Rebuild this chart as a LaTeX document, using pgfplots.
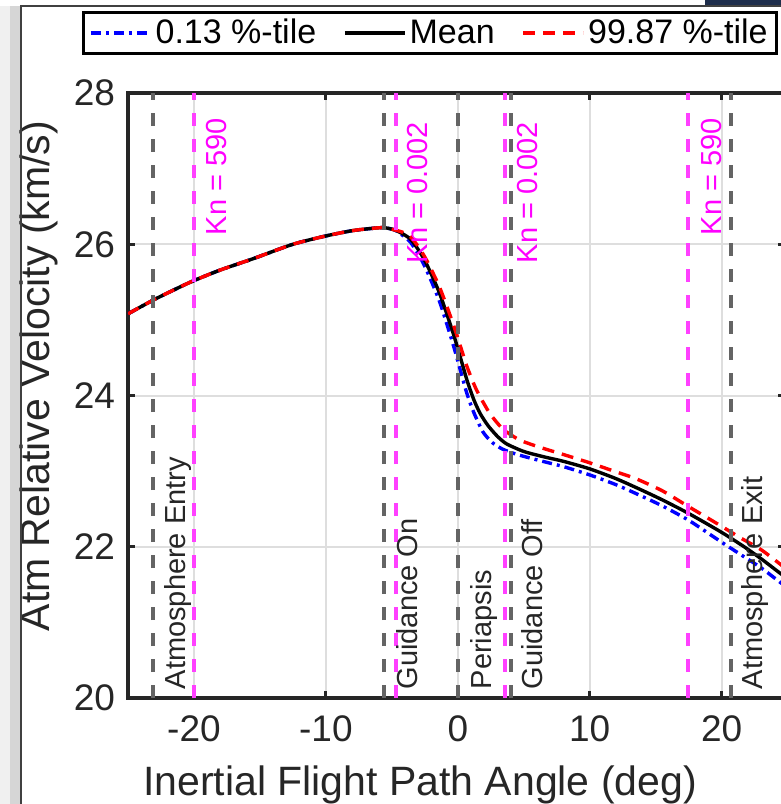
\documentclass[border=0pt]{standalone}
\usepackage{pgfplots}
\pgfplotsset{compat=1.18}
\usepackage{fontspec}
\setmainfont{Liberation Sans}
\definecolor{mag}{RGB}{255,64,255}
\definecolor{magtext}{RGB}{255,0,255}
\definecolor{vgray}{RGB}{100,100,100}
\definecolor{axgray}{RGB}{38,38,38}
\definecolor{navy}{RGB}{30,45,75}

\begin{document}
\begin{tikzpicture}
\path[use as bounding box] (0,0) rectangle (390.5pt,402pt);
\fill[black!6] (0,0) rectangle (5pt,399pt);
\fill[black!16] (5pt,0) rectangle (10.5pt,399pt);
\fill[navy] (352.5pt,399.5pt) rectangle (390.5pt,402pt);
\begin{axis}[
  at={(64pt,53pt)}, anchor=south west,
  scale only axis, width=328.5pt, height=302.5pt,
  xmin=-25, xmax=24.8, ymin=20, ymax=28,
  xtick={-20,-10,0,10,20}, xticklabels={-20,-10,0,10,20},
  ytick={20,22,24,26,28}, yticklabels={20,22,24,26,28},
  tick align=inside, major tick length=3.5pt,
  tick style={axgray, line width=1.5pt},
  axis line style={axgray, line width=1.8pt},
  grid=major, major grid style={black!13, line width=1pt},
  ticklabel style={font=\fontsize{18.5}{21}\selectfont, text=axgray},
  xticklabel style={yshift=-5.5pt},
  yticklabel style={xshift=-3pt},
  xlabel={Inertial Flight Path Angle (deg)},
  ylabel={Atm Relative Velocity (km/s)},
  label style={font=\fontsize{20.5}{24}\selectfont, text=axgray},
  xlabel style={at={(axis description cs:0.4445,0)}, anchor=base, yshift=-48.5pt},
  ylabel style={at={(axis description cs:-0.119,0.532)}, anchor=base},
  legend style={at={(axis description cs:0.4596,1.0992)}, anchor=center,
    legend columns=3, draw=black, line width=1.5pt, fill=white,
    font=\fontsize{17}{20}\selectfont, inner xsep=3pt, inner ysep=1.5pt,
    nodes={inner xsep=1.5pt},
    /tikz/every even column/.append style={column sep=12pt}},
  legend cell align=left,
  legend image code/.code={\draw[#1] (0pt,0pt) -- (30pt,0pt);},
]
\addplot[blue, line width=1.7pt, dash pattern=on 5pt off 2.5pt on 1.5pt off 2.5pt, smooth, tension=0.4] coordinates {
(-25,25.08) (-23,25.27) (-21,25.44) (-20,25.52) (-18,25.66) (-15.5,25.81) (-12.5,26.00)
(-10,26.11) (-8,26.18) (-6.5,26.21) (-5.6,26.22) (-4.8,26.19) (-4.2,26.12) (-3.6,26.03)
(-3.0,25.87) (-2.4,25.67) (-1.4,25.25) (-0.4,24.70) (0.2,24.33) (0.7,24.02) (1.2,23.78)
(1.9,23.52) (2.6,23.38) (3.4,23.29) (4.5,23.22) (6.2,23.14) (8.0,23.06) (10,22.95)
(12,22.82) (13.8,22.68) (15.5,22.54) (17.5,22.35) (20,22.06) (21.5,21.89) (23,21.72) (24.8,21.48)
};
\addlegendentry{0.13 \%-tile}
\addplot[black, line width=1.7pt, smooth, tension=0.4] coordinates {
(-25,25.08) (-23,25.27) (-21,25.44) (-20,25.52) (-18,25.66) (-15.5,25.81) (-12.5,26.00)
(-10,26.11) (-8,26.18) (-6.5,26.21) (-5.6,26.22) (-4.8,26.19) (-4.2,26.14) (-3.6,26.07)
(-3.0,25.93) (-2.4,25.75) (-1.4,25.36) (-0.4,24.85) (0.2,24.50) (0.7,24.20) (1.2,23.95)
(1.7,23.76) (2.3,23.60) (3.0,23.46) (3.7,23.36) (5.0,23.26) (6.5,23.19) (8.0,23.13)
(10,23.03) (12,22.90) (13.8,22.76) (15.5,22.62) (17.5,22.44) (20,22.19) (21.7,22.00) (23,21.84) (24.8,21.60)
};
\addlegendentry{Mean}
\addplot[red, line width=1.7pt, dash pattern=on 6pt off 4pt, smooth, tension=0.4] coordinates {
(-25,25.08) (-23,25.27) (-21,25.44) (-20,25.52) (-18,25.66) (-15.5,25.81) (-12.5,26.00)
(-10,26.11) (-8,26.18) (-6.5,26.21) (-5.6,26.22) (-4.8,26.19) (-4.2,26.16) (-3.6,26.10)
(-3.0,25.97) (-2.4,25.80) (-1.4,25.44) (-0.4,24.97) (0.2,24.65) (0.7,24.38) (1.4,24.08)
(2.4,23.77) (3.4,23.56) (4.7,23.41) (6.5,23.30) (8.0,23.22) (10,23.11) (12,22.99)
(13.5,22.90) (15.5,22.74) (17.5,22.53) (20,22.27) (21.4,22.12) (23,21.96) (24.8,21.72)
};
\addlegendentry{99.87 \%-tile}
% event lines
\addplot[vgray, line width=2pt, dash pattern=on 6.5pt off 6.5pt, forget plot] coordinates {(-23.1,20) (-23.1,28)};
\addplot[vgray, line width=2pt, dash pattern=on 6.5pt off 6.5pt, forget plot] coordinates {(-5.6,20) (-5.6,28)};
\addplot[vgray, line width=2pt, dash pattern=on 6.5pt off 6.5pt, forget plot] coordinates {(0,20) (0,28)};
\addplot[vgray, line width=2pt, dash pattern=on 6.5pt off 6.5pt, forget plot] coordinates {(4.0,20) (4.0,28)};
\addplot[vgray, line width=2pt, dash pattern=on 6.5pt off 6.5pt, forget plot] coordinates {(20.7,20) (20.7,28)};
\addplot[mag, line width=2pt, dash pattern=on 6.5pt off 6.5pt, forget plot] coordinates {(-20.0,20) (-20.0,28)};
\addplot[mag, line width=2pt, dash pattern=on 6.5pt off 6.5pt, forget plot] coordinates {(-4.65,20) (-4.65,28)};
\addplot[mag, line width=2pt, dash pattern=on 6.5pt off 6.5pt, forget plot] coordinates {(3.55,20) (3.55,28)};
\addplot[mag, line width=2pt, dash pattern=on 6.5pt off 6.5pt, forget plot] coordinates {(17.45,20) (17.45,28)};
% annotations
\begin{scope}[every node/.style={rotate=90, inner sep=0pt, font=\fontsize{14.5}{17}\selectfont}]
\node[anchor=north west, text=axgray] at (axis cs:-22.25,20.11) {Atmosphere Entry};
\node[anchor=north west, text=axgray] at (axis cs:-4.65,20.11) {Guidance On};
\node[anchor=north west, text=axgray] at (axis cs:0.91,20.11) {Periapsis};
\node[anchor=north west, text=axgray] at (axis cs:4.83,20.11) {Guidance Off};
\node[anchor=north west, text=axgray] at (axis cs:21.5,20.11) {Atmosphere Exit};
\node[anchor=north east, text=magtext] at (axis cs:-19.1,27.67) {Kn = 590};
\node[anchor=north east, text=magtext] at (axis cs:-3.84,27.62) {Kn = 0.002};
\node[anchor=north east, text=magtext] at (axis cs:4.45,27.62) {Kn = 0.002};
\node[anchor=north east, text=magtext] at (axis cs:18.42,27.67) {Kn = 590};
\end{scope}
\end{axis}
\fill[white] (386pt,0) rectangle (392pt,51.5pt);
\draw[black!75, line width=0.8pt] (10.5pt,0) -- (10.5pt,399pt) -- (390.5pt,399pt);
\end{tikzpicture}
\end{document}
